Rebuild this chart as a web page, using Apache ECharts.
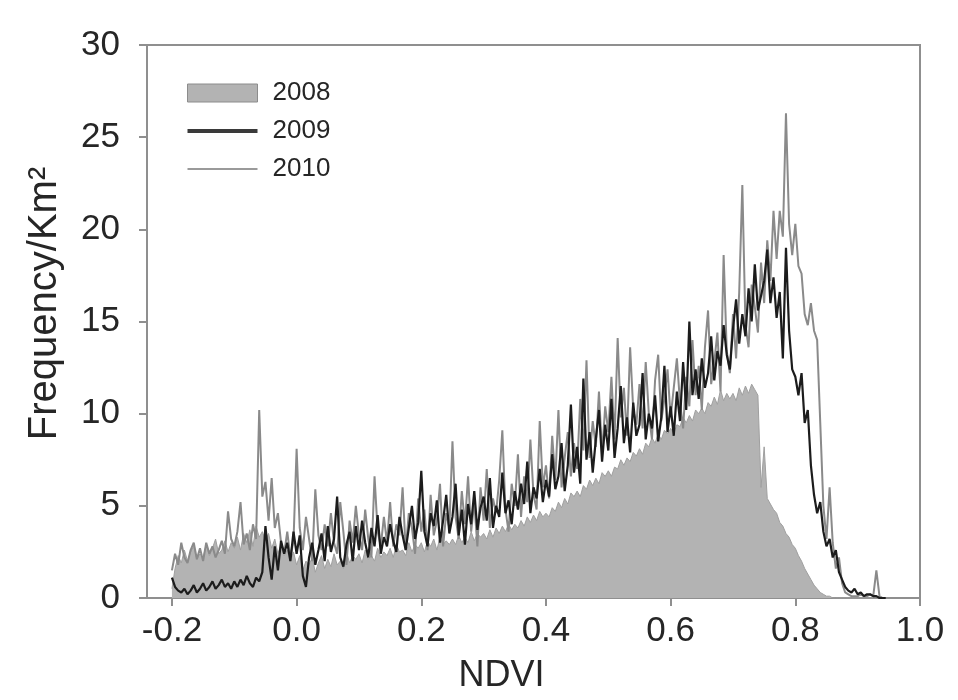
<!DOCTYPE html>
<html>
<head>
<meta charset="utf-8">
<script src="https://cdn.jsdelivr.net/npm/echarts@6/dist/echarts.min.js"></script>
<style>
html,body{margin:0;padding:0;background:#fff;}
#chart{width:958px;height:700px;}
</style>
</head>
<body>
<div id="chart"></div>
<script>
// NDVI bin positions
const ndvi = [
-0.2,-0.195,-0.19,-0.185,-0.18,-0.175,-0.17,-0.165,-0.16,-0.155,
-0.15,-0.145,-0.14,-0.135,-0.13,-0.125,-0.12,-0.115,-0.11,-0.105,
-0.1,-0.095,-0.09,-0.085,-0.08,-0.075,-0.07,-0.065,-0.06,-0.055,
-0.05,-0.045,-0.04,-0.035,-0.03,-0.025,-0.02,-0.015,-0.01,-0.005,
0,0.005,0.01,0.015,0.02,0.025,0.03,0.035,0.04,0.045,
0.05,0.055,0.06,0.065,0.07,0.075,0.08,0.085,0.09,0.095,
0.1,0.105,0.11,0.115,0.12,0.125,0.13,0.135,0.14,0.145,
0.15,0.155,0.16,0.165,0.17,0.175,0.18,0.185,0.19,0.195,
0.2,0.205,0.21,0.215,0.22,0.225,0.23,0.235,0.24,0.245,
0.25,0.255,0.26,0.265,0.27,0.275,0.28,0.285,0.29,0.295,
0.3,0.305,0.31,0.315,0.32,0.325,0.33,0.335,0.34,0.345,
0.35,0.355,0.36,0.365,0.37,0.375,0.38,0.385,0.39,0.395,
0.4,0.405,0.41,0.415,0.42,0.425,0.43,0.435,0.44,0.445,
0.45,0.455,0.46,0.465,0.47,0.475,0.48,0.485,0.49,0.495,
0.5,0.505,0.51,0.515,0.52,0.525,0.53,0.535,0.54,0.545,
0.55,0.555,0.56,0.565,0.57,0.575,0.58,0.585,0.59,0.595,
0.6,0.605,0.61,0.615,0.62,0.625,0.63,0.635,0.64,0.645,
0.65,0.655,0.66,0.665,0.67,0.675,0.68,0.685,0.69,0.695,
0.7,0.705,0.71,0.715,0.72,0.725,0.73,0.735,0.74,0.745,
0.75,0.755,0.76,0.765,0.77,0.775,0.78,0.785,0.79,0.795,
0.8,0.805,0.81,0.815,0.82,0.825,0.83,0.835,0.84,0.845,
0.85,0.855,0.86,0.865,0.87,0.875,0.88,0.885,0.89,0.895,
0.9,0.905,0.91,0.915,0.92,0.925,0.93,0.935,0.94,0.945
];

// Frequency / Km^2 — 2008 (filled area)
const freq2008 = [
0.5,1.6,2.3,1.9,2.6,2.0,2.5,2.8,2.1,2.4,
2.2,2.9,2.3,2.7,3.2,2.4,2.6,3.1,2.5,3.0,
2.7,3.3,2.6,3.5,3.0,3.7,2.8,3.9,3.3,3.6,
3.1,3.5,2.7,3.2,2.4,2.9,2.3,2.6,2.0,2.5,
1.8,2.3,1.5,2.0,1.8,2.2,1.4,1.9,2.3,1.6,
2.1,1.7,2.4,1.8,2.0,1.6,2.5,1.9,2.3,2.1,
2.4,1.9,2.6,2.1,2.3,2.0,2.7,2.2,2.5,2.3,
2.7,2.2,2.9,2.5,2.6,2.3,3.0,2.5,2.9,2.7,
3.0,2.5,3.1,2.8,3.2,2.6,3.3,2.9,3.1,2.9,
3.2,2.9,3.4,3.0,3.3,3.0,3.6,3.1,3.5,3.3,
3.5,3.2,3.7,3.3,3.8,3.5,3.9,3.6,4.0,3.7,
4.0,3.8,4.2,3.9,4.4,4.1,4.5,4.2,4.7,4.4,
4.6,4.4,4.9,4.7,5.2,4.9,5.4,5.1,5.7,5.5,
5.8,5.5,6.1,5.9,6.4,6.1,6.5,6.2,6.8,6.6,
6.9,6.6,7.1,7.0,7.5,7.2,7.6,7.4,7.9,7.7,
8.1,7.8,8.4,8.2,8.7,8.4,8.9,8.6,9.1,8.9,
9.2,8.9,9.4,9.3,9.8,9.5,9.9,9.6,10.2,10.0,
10.3,10.0,10.6,10.4,10.9,10.5,11.3,10.7,11.1,10.8,
11.1,10.7,11.4,11.0,11.5,11.1,11.6,11.3,11.0,6.0,
8.2,5.4,5.1,4.8,4.6,4.1,3.9,3.5,3.3,2.9,
2.7,2.3,2.0,1.6,1.3,1.0,0.7,0.5,0.3,0.2,
0.1,0.1,0,0,0,0,0,0,0,0,
0,0,0,0,0,0,0,0,0,0
];

// 2009 (black line)
const freq2009 = [
1.1,0.6,0.4,0.3,0.5,0.2,0.4,0.7,0.3,0.5,
0.8,0.4,0.6,0.9,0.5,0.7,1.0,0.6,0.8,0.5,
0.9,0.6,1.0,0.7,1.2,0.8,0.6,1.1,0.9,1.4,
3.9,2.2,1.0,2.8,1.5,3.1,2.4,3.0,2.0,3.6,
2.4,3.4,1.2,0.6,2.2,3.0,1.8,2.6,3.5,2.0,
3.9,2.5,3.2,5.5,2.2,1.7,2.9,3.6,2.0,3.9,
2.6,4.2,3.0,2.2,3.8,2.8,4.5,2.4,3.3,2.8,
4.0,3.1,2.5,4.4,3.4,2.6,3.8,5.0,3.2,4.1,
6.9,3.6,2.8,4.6,3.9,5.3,3.0,4.2,5.6,3.5,
4.4,6.2,3.4,4.8,2.9,5.1,4.0,5.8,3.7,4.9,
5.5,4.2,6.5,3.8,5.0,4.4,6.8,4.6,5.3,4.0,
5.8,4.8,6.2,5.1,7.4,4.6,6.0,5.4,7.0,5.2,
6.4,5.5,7.8,5.9,6.6,8.4,5.8,7.2,10.5,6.8,
8.2,6.2,11.9,7.5,9.0,6.8,8.6,10.2,7.4,9.4,
8.0,10.8,7.6,9.2,11.5,8.4,9.8,7.9,10.6,8.8,
9.4,12.2,8.6,10.0,9.2,11.0,8.5,9.8,12.6,9.0,
10.4,8.8,11.2,9.6,12.8,10.2,15.0,11.0,12.4,10.8,
13.0,11.4,12.2,14.2,11.8,13.4,12.6,14.8,13.2,12.4,
14.6,16.2,13.8,15.4,14.2,16.8,15.0,18.1,15.6,16.4,
17.2,18.9,16.0,17.4,15.2,16.6,13.0,19.0,14.5,12.4,
12.0,11.0,12.2,9.5,10.2,7.2,5.6,4.6,5.2,3.6,
2.8,3.2,2.2,2.6,1.4,1.0,0.6,0.4,0.3,0.5,
0.2,0.3,0.1,0.2,0.2,0.1,0.1,0.0,0.0,0.0
];

// 2010 (grey line)
const freq2010 = [
1.5,2.4,1.8,3.0,2.2,1.9,2.6,3.0,2.1,2.7,
2.0,3.0,2.4,2.8,2.2,2.6,3.1,2.4,4.7,3.2,
2.8,3.6,5.2,2.9,3.5,2.6,4.0,3.2,10.2,5.5,
6.3,4.2,6.5,3.8,4.6,3.0,2.4,3.6,2.2,3.1,
8.1,3.8,2.6,4.4,3.2,2.0,5.9,3.4,2.6,4.0,
2.8,4.6,3.0,2.4,5.2,3.6,1.8,4.2,3.0,5.0,
3.4,2.6,4.8,3.2,2.2,6.6,3.6,2.8,4.4,3.0,
5.2,2.8,4.0,3.4,6.0,2.6,4.6,3.8,2.4,5.4,
3.6,4.8,2.6,5.6,3.4,4.2,6.2,2.8,4.6,3.8,
8.5,4.4,3.2,5.8,4.0,6.6,3.6,5.2,2.8,6.0,
4.2,7.0,3.8,5.4,4.6,6.4,9.1,4.8,3.6,6.2,
5.0,7.8,4.4,6.6,5.2,8.6,5.6,4.8,9.6,6.0,
7.2,5.4,8.8,6.4,10.2,6.0,7.6,9.0,6.6,8.4,
7.0,10.8,8.0,12.9,7.6,9.6,8.2,11.2,7.8,10.4,
9.0,12.0,8.6,14.1,9.8,11.4,8.8,13.6,10.2,9.4,
11.6,9.2,12.8,10.0,8.6,11.8,13.2,9.6,10.8,12.4,
9.8,11.4,13.0,10.6,9.2,12.0,10.4,14.0,11.0,12.6,
10.2,13.6,15.6,11.6,12.8,14.4,11.2,18.6,13.4,12.2,
15.4,13.0,16.6,22.4,14.8,13.6,17.0,15.8,14.4,18.2,
16.0,19.4,17.2,21.0,18.4,21.0,19.6,26.3,20.3,18.6,
20.3,18.0,17.6,15.4,14.8,16.0,14.5,14.0,9.5,5.0,
3.2,6.0,3.0,1.6,2.2,0.8,0.3,0.2,0.1,0.1,
0.1,0.2,0.1,0.1,0.2,0.1,1.5,0.1,0.0,0.0
];

const seriesNames = ['2008', '2009', '2010'];
const xTickValues = [-0.2, 0.0, 0.2, 0.4, 0.6, 0.8, 1.0];
const xTitle = 'NDVI';
const yTitle = 'Frequency/Km\u00B2';

function pairs(ys) { return ndvi.map((x, i) => [x, ys[i]]); }

const FONT = '"Liberation Sans", Arial, sans-serif';
const AXIS_GREY = '#8f8f8f';
const TEXT = '#262626';

const chart = echarts.init(document.getElementById('chart'), null, {renderer: 'canvas'});
chart.setOption({
  animation: false,
  backgroundColor: '#ffffff',
  grid: {left: 147, right: 38, top: 45, bottom: 102, show: true,
         borderColor: AXIS_GREY, borderWidth: 2, backgroundColor: 'transparent'},
  legend: {
    orient: 'vertical', left: 182, top: 75,
    itemWidth: 70, itemHeight: 18, itemGap: 12,
    symbolKeepAspect: true,
    textStyle: {fontFamily: FONT, fontSize: 26, color: TEXT, padding: [0, 0, 0, 10]},
    data: [
      {name: seriesNames[0], icon: 'rect', itemStyle: {color: '#b3b3b3', borderColor: '#8c8c8c', borderWidth: 1}},
      {name: seriesNames[1], icon: 'path://M0,0H70V4H0Z', itemStyle: {color: '#3a3a3a', borderWidth: 0}},
      {name: seriesNames[2], icon: 'path://M0,0H70V2H0Z', itemStyle: {color: '#9a9a9a', borderWidth: 0}}
    ]
  },
  xAxis: {
    type: 'value', min: -0.24, max: 1.0,
    name: xTitle, nameLocation: 'middle', nameGap: 60,
    nameTextStyle: {fontFamily: FONT, fontSize: 36, color: TEXT, padding: [0, 64, 0, 0]},
    axisLine: {show: true, onZero: false, lineStyle: {color: AXIS_GREY, width: 2}},
    axisTick: {show: true, inside: false, length: 8, customValues: xTickValues, lineStyle: {color: AXIS_GREY, width: 2}},
    axisLabel: {customValues: xTickValues, margin: 16, fontFamily: FONT, fontSize: 35, color: TEXT,
                formatter: v => Number(v).toFixed(1)},
    splitLine: {show: false}
  },
  yAxis: {
    type: 'value', min: 0, max: 30, interval: 5,
    name: yTitle, nameLocation: 'middle', nameGap: 82,
    nameTextStyle: {fontFamily: FONT, fontSize: 40, color: TEXT, padding: [0, 0, 0, 36]},
    axisLine: {show: true, onZero: false, lineStyle: {color: AXIS_GREY, width: 2}},
    axisTick: {show: true, inside: false, length: 8, lineStyle: {color: AXIS_GREY, width: 2}},
    axisLabel: {margin: 27, fontFamily: FONT, fontSize: 35, color: TEXT},
    splitLine: {show: false}
  },
  series: [
    {name: seriesNames[0], type: 'line', data: pairs(freq2008), symbol: 'none', z: 1,
     lineStyle: {color: '#9f9f9f', width: 1}, itemStyle: {color: '#b3b3b3'},
     areaStyle: {color: '#b3b3b3', opacity: 1}},
    {name: seriesNames[2], type: 'line', data: pairs(freq2010), symbol: 'none', z: 2,
     lineStyle: {color: '#8a8a8a', width: 2}, itemStyle: {color: '#8a8a8a'}},
    {name: seriesNames[1], type: 'line', data: pairs(freq2009), symbol: 'none', z: 3,
     lineStyle: {color: '#1c1c1c', width: 2.2}, itemStyle: {color: '#1c1c1c'}}
  ]
});
</script>
</body>
</html>
